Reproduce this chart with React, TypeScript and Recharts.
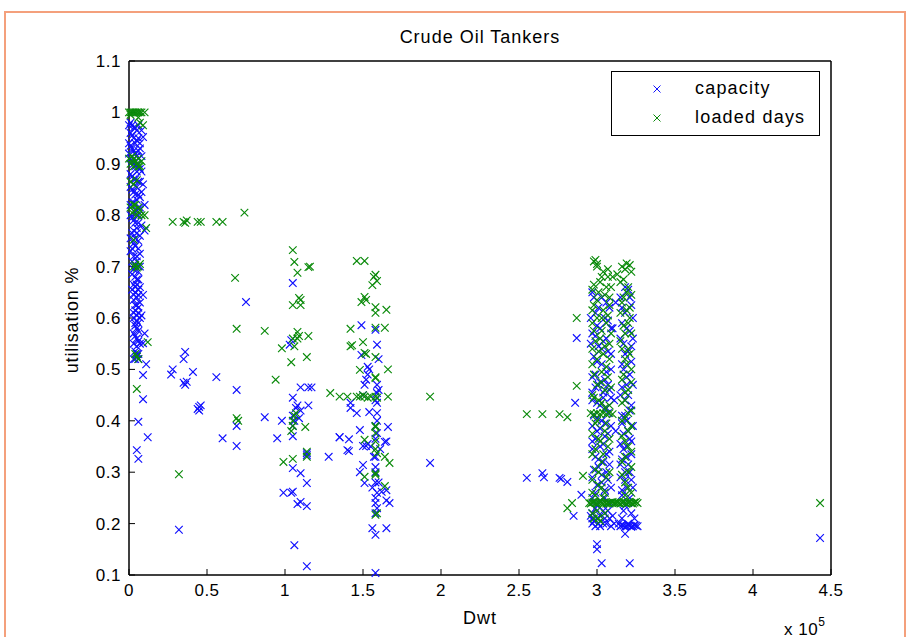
import React from "react";
import { ScatterChart, Scatter, XAxis, YAxis } from "recharts";

// x values are in thousands of Dwt, y is utilisation (0..1)
const capacityNearZero: [number, number][] = [
  [0, 0.975], [1, 0.98], [3, 0.97], [5, 0.965], [2, 0.955], [6, 0.95], [9, 0.952], [0, 0.94], [4, 0.94],
  [1, 0.935], [7, 0.93], [3, 0.925], [0, 0.92], [5, 0.915], [2, 0.905], [6, 0.9], [4, 0.895], [8, 0.885],
  [1, 0.88], [3, 0.87], [6, 0.865], [9, 0.86], [5, 0.855], [2, 0.85], [8, 0.845], [4, 0.84], [7, 0.835],
  [3, 0.825], [1, 0.82], [10, 0.82], [5, 0.81], [6, 0.8], [2, 0.795], [4, 0.785], [8, 0.78], [3, 0.77],
  [10, 0.77], [5, 0.765], [1, 0.755], [6, 0.75], [4, 0.74], [2, 0.735], [7, 0.725], [3, 0.72], [5, 0.71],
  [4, 0.7], [6, 0.69], [2, 0.685], [5, 0.675], [3, 0.665], [7, 0.66], [4, 0.65], [9, 0.645], [6, 0.645],
  [3, 0.635], [5, 0.625], [4, 0.615], [6, 0.61], [8, 0.605], [3, 0.6], [5, 0.595], [4, 0.585], [6, 0.575],
  [3, 0.57], [10, 0.57], [5, 0.56], [7, 0.55], [9, 0.551], [4, 0.535], [6, 0.53], [5, 0.525], [3, 0.52],
  [2, 0.975], [4, 0.97], [6, 0.975], [8, 0.965], [1, 0.96], [3, 0.95], [5, 0.945], [7, 0.94], [2, 0.93],
  [6, 0.925], [4, 0.92], [8, 0.915], [1, 0.91], [3, 0.9], [7, 0.89], [5, 0.885], [2, 0.875], [4, 0.87],
  [7, 0.865], [1, 0.855], [3, 0.845], [6, 0.84], [5, 0.83], [2, 0.825], [7, 0.815], [4, 0.805], [1, 0.8],
  [3, 0.79], [6, 0.785], [5, 0.775], [2, 0.765], [7, 0.76], [4, 0.755], [3, 0.745], [6, 0.735], [1, 0.73],
  [5, 0.72], [2, 0.71], [7, 0.7], [3, 0.695], [4, 0.68], [6, 0.675], [5, 0.665], [4, 0.66], [2, 0.655],
  [6, 0.655], [5, 0.64], [3, 0.645], [7, 0.63], [4, 0.625], [6, 0.62], [5, 0.605], [3, 0.61], [7, 0.6],
  [4, 0.59], [6, 0.59], [5, 0.58], [4, 0.565], [6, 0.555], [3, 0.55], [5, 0.545], [4, 0.52], [5, 0.53],
  [6, 0.52],
  [11, 0.51], [9, 0.489], [9, 0.442], [6, 0.398], [12, 0.368], [5, 0.343], [6, 0.326],
];

const capacityMid: [number, number][] = [
  [32, 0.188], [28, 0.5], [27, 0.49], [35, 0.52], [36, 0.534], [35, 0.474], [36, 0.47], [37, 0.476],
  [41, 0.495], [45, 0.427], [44, 0.423], [46, 0.43], [45, 0.42], [56, 0.485], [60, 0.366], [69, 0.46],
  [69, 0.39], [69, 0.351], [75, 0.631], [87, 0.407], [98, 0.4], [95, 0.366],
];

const capacity100k: [number, number][] = [
  [99, 0.26], [104, 0.26], [105, 0.262], [105, 0.308], [106, 0.158], [110, 0.298], [108, 0.238],
  [110, 0.242], [114, 0.279], [114, 0.234], [114, 0.117], [114, 0.337], [114, 0.333], [115, 0.43],
  [115, 0.465], [117, 0.465], [110, 0.465], [105, 0.37], [105, 0.39], [106, 0.4], [105, 0.41], [107, 0.425],
  [108, 0.43], [105, 0.445], [109, 0.405], [110, 0.42], [103, 0.548], [105, 0.668], [104, 0.557],
  [128, 0.33], [135, 0.368], [140, 0.343],
];

const capacity150k: [number, number][] = [
  [149, 0.586], [158, 0.577], [159, 0.548], [149, 0.528], [153, 0.505], [154, 0.5], [153, 0.49], [151, 0.47],
  [152, 0.48], [159, 0.454], [159, 0.435], [158, 0.44], [142, 0.435], [142, 0.425], [146, 0.415],
  [154, 0.417], [159, 0.415], [135, 0.368], [141, 0.364], [141, 0.341], [148, 0.382], [150, 0.351],
  [152, 0.351], [153, 0.355], [155, 0.35], [159, 0.376], [158, 0.39], [159, 0.4], [158, 0.365], [164, 0.359],
  [165, 0.36], [166, 0.388], [150, 0.314], [151, 0.279], [158, 0.33], [158, 0.31], [158, 0.3], [158, 0.28],
  [159, 0.26], [158, 0.25], [158, 0.24], [159, 0.23], [158, 0.22], [162, 0.262], [165, 0.265], [167, 0.24],
  [165, 0.245], [156, 0.191], [158, 0.178], [165, 0.191], [158, 0.104], [160, 0.52], [159, 0.47],
  [160, 0.46], [150, 0.45], [148, 0.3], [160, 0.28], [161, 0.345], [156, 0.27], [157, 0.33], [193, 0.318],
];

const capacity300k: [number, number][] = [
  [255, 0.289], [265, 0.298], [266, 0.29], [276, 0.289], [277, 0.287], [281, 0.281], [290, 0.256],
  [285, 0.215], [286, 0.435], [287, 0.561],
  [297, 0.65], [303, 0.64], [308, 0.62], [299, 0.61], [305, 0.6], [300, 0.585], [309, 0.58], [297, 0.57],
  [304, 0.555], [301, 0.545], [307, 0.535], [298, 0.525], [303, 0.51], [309, 0.5], [299, 0.49], [305, 0.48],
  [301, 0.47], [308, 0.46], [297, 0.455], [304, 0.445], [300, 0.435], [306, 0.425], [298, 0.41], [303, 0.4],
  [309, 0.39], [300, 0.38], [305, 0.37], [297, 0.36], [302, 0.35], [308, 0.34], [299, 0.33], [304, 0.32],
  [301, 0.31], [306, 0.3], [297, 0.29], [303, 0.28], [309, 0.27], [299, 0.26], [305, 0.25], [300, 0.235],
  [307, 0.225], [297, 0.22], [302, 0.215], [305, 0.21], [298, 0.205], [301, 0.2], [304, 0.2], [308, 0.21],
  [299, 0.195], [310, 0.215], [311, 0.2], [297, 0.21], [300, 0.16], [300, 0.15], [303, 0.123],
  [312, 0.63], [311, 0.44], [312, 0.38], [310, 0.58],
  [298, 0.64], [306, 0.63], [301, 0.62], [296, 0.6], [307, 0.595], [302, 0.58], [299, 0.565], [306, 0.56],
  [296, 0.55], [303, 0.54], [309, 0.53], [300, 0.515], [306, 0.495], [297, 0.485], [302, 0.475], [307, 0.47],
  [299, 0.465], [304, 0.455], [309, 0.445], [297, 0.44], [302, 0.43], [307, 0.415], [300, 0.405], [305, 0.395],
  [297, 0.39], [302, 0.385], [307, 0.375], [299, 0.365], [304, 0.355], [297, 0.345], [306, 0.335], [301, 0.325],
  [308, 0.315], [298, 0.305], [303, 0.295], [307, 0.285], [300, 0.275], [305, 0.265], [297, 0.25], [302, 0.245],
  [308, 0.24], [299, 0.23], [304, 0.225], [296, 0.215], [300, 0.21], [306, 0.2], [302, 0.195], [297, 0.2],
  [309, 0.195],
  [318, 0.66], [321, 0.64], [316, 0.62], [323, 0.6], [319, 0.58], [315, 0.56], [322, 0.545], [318, 0.53],
  [316, 0.51], [321, 0.49], [319, 0.47], [315, 0.45], [322, 0.43], [318, 0.41], [316, 0.395], [320, 0.38],
  [322, 0.36], [317, 0.345], [319, 0.33], [315, 0.315], [321, 0.3], [318, 0.285], [323, 0.27], [316, 0.255],
  [320, 0.24], [317, 0.225], [315, 0.195], [317, 0.196], [319, 0.195], [321, 0.196], [323, 0.195],
  [325, 0.196], [318, 0.18], [321, 0.123],
  [320, 0.655], [315, 0.64], [322, 0.625], [318, 0.61], [316, 0.59], [321, 0.575], [323, 0.56], [317, 0.55],
  [320, 0.535], [322, 0.515], [317, 0.5], [319, 0.485], [323, 0.47], [316, 0.465], [320, 0.45], [318, 0.44],
  [321, 0.42], [316, 0.41], [319, 0.4], [323, 0.39], [317, 0.375], [321, 0.365], [315, 0.355], [319, 0.35],
  [322, 0.335], [316, 0.325], [320, 0.315], [318, 0.3], [315, 0.29], [322, 0.285], [319, 0.27], [316, 0.265],
  [321, 0.25], [318, 0.235], [322, 0.22], [316, 0.21], [320, 0.2], [324, 0.21], [314, 0.2], [316, 0.197],
  [318, 0.194], [320, 0.197], [322, 0.194], [324, 0.197], [326, 0.195],
  [443, 0.172],
];

const loadedNearZero: [number, number][] = [
  [0, 1], [1, 1], [2, 1], [3, 1], [4, 1], [5, 1], [6, 1], [7, 1], [8, 1], [10, 1], [1, 0.995], [6, 0.99],
  [7, 0.98], [9, 0.975],
  [0, 0.91], [1, 0.9], [2, 0.915], [3, 0.895], [4, 0.905], [5, 0.9], [6, 0.91], [7, 0.895], [8, 0.905],
  [3, 0.91], [6, 0.895], [1, 0.865], [3, 0.86], [5, 0.868],
  [1, 0.815], [2, 0.805], [3, 0.82], [4, 0.81], [5, 0.8], [6, 0.815], [7, 0.81], [4, 0.82], [8, 0.8],
  [10, 0.8], [11, 0.775], [3, 0.752],
  [3, 0.7], [4, 0.703], [5, 0.698], [6, 0.7], [7, 0.705], [4, 0.53], [5, 0.525], [6, 0.52], [5, 0.462],
  [12, 0.553],
];

const loadedMid: [number, number][] = [
  [28, 0.787], [35, 0.787], [36, 0.785], [37, 0.79], [44, 0.787], [46, 0.787], [56, 0.787], [60, 0.787],
  [74, 0.805], [68, 0.678], [69, 0.579], [87, 0.575], [32, 0.296], [69, 0.405], [70, 0.4], [94, 0.48],
];

const loaded100k: [number, number][] = [
  [105, 0.732], [106, 0.709], [108, 0.688], [115, 0.699], [116, 0.7], [109, 0.639], [110, 0.635],
  [105, 0.625], [110, 0.625], [98, 0.541], [105, 0.56], [108, 0.573], [108, 0.56], [109, 0.565],
  [115, 0.565], [106, 0.545], [104, 0.514], [114, 0.524], [99, 0.32], [105, 0.326], [113, 0.388],
  [114, 0.33], [114, 0.34], [105, 0.4], [105, 0.39], [106, 0.41], [107, 0.415], [104, 0.38],
  [129, 0.454], [135, 0.447], [140, 0.447],
];

const loaded150k: [number, number][] = [
  [146, 0.711], [151, 0.711], [158, 0.684], [157, 0.68], [156, 0.664], [159, 0.672], [151, 0.641],
  [149, 0.631], [152, 0.635], [158, 0.621], [158, 0.61], [165, 0.616], [142, 0.579], [150, 0.553],
  [142, 0.545], [143, 0.547], [158, 0.581], [164, 0.581], [151, 0.532], [152, 0.53], [158, 0.524],
  [148, 0.499], [166, 0.5], [158, 0.483], [158, 0.485], [146, 0.447], [148, 0.447], [150, 0.45],
  [151, 0.447], [153, 0.445], [155, 0.447], [158, 0.447], [159, 0.445], [166, 0.447], [158, 0.388],
  [158, 0.39], [158, 0.376], [158, 0.36], [158, 0.345], [159, 0.337], [151, 0.363], [164, 0.33],
  [167, 0.318], [158, 0.295], [158, 0.298], [151, 0.291], [164, 0.273], [158, 0.217], [159, 0.22],
  [193, 0.447],
];

const loaded300k: [number, number][] = [
  [255, 0.413], [265, 0.413], [276, 0.413], [281, 0.407], [287, 0.468], [287, 0.6], [291, 0.293],
  [281, 0.23], [284, 0.24],
  [299, 0.713], [298, 0.71], [300, 0.705], [304, 0.69], [307, 0.68], [302, 0.67], [309, 0.66], [297, 0.655],
  [305, 0.645], [300, 0.635], [308, 0.625], [297, 0.615], [303, 0.6], [306, 0.59], [298, 0.575], [302, 0.56],
  [308, 0.55], [297, 0.54], [304, 0.53], [300, 0.52], [306, 0.505], [298, 0.49], [303, 0.475], [309, 0.465],
  [297, 0.45], [301, 0.44], [305, 0.425], [296, 0.415], [298, 0.413], [300, 0.415], [302, 0.413],
  [304, 0.415], [306, 0.413], [308, 0.415], [310, 0.413], [299, 0.395], [305, 0.38], [301, 0.365],
  [307, 0.35], [297, 0.335], [303, 0.32], [299, 0.305], [306, 0.29], [301, 0.275], [297, 0.26], [304, 0.25],
  [295, 0.24], [297, 0.241], [299, 0.24], [301, 0.241], [303, 0.24], [305, 0.241], [307, 0.24],
  [309, 0.241], [311, 0.24], [300, 0.225], [298, 0.21], [302, 0.205], [310, 0.68], [307, 0.695],
  [300, 0.7], [303, 0.68], [298, 0.665], [306, 0.66], [301, 0.65], [308, 0.64], [298, 0.625], [304, 0.615],
  [300, 0.6], [307, 0.605], [297, 0.59], [303, 0.575], [309, 0.57], [299, 0.555], [305, 0.545], [301, 0.535],
  [308, 0.52], [297, 0.51], [303, 0.495], [307, 0.485], [300, 0.47], [305, 0.46], [298, 0.445], [303, 0.435],
  [308, 0.43], [300, 0.4], [306, 0.395], [297, 0.375], [302, 0.36], [308, 0.365], [299, 0.345], [304, 0.335],
  [301, 0.3], [308, 0.3], [297, 0.285], [303, 0.27], [299, 0.255], [305, 0.26], [306, 0.239], [296, 0.239],
  [300, 0.239], [304, 0.239], [308, 0.239], [298, 0.242], [302, 0.242], [310, 0.242], [312, 0.24],
  [297, 0.22], [301, 0.21], [305, 0.22],
  [316, 0.7], [319, 0.706], [321, 0.703], [313, 0.685], [317, 0.675], [320, 0.66], [322, 0.645],
  [316, 0.63], [319, 0.615], [321, 0.6], [317, 0.585], [322, 0.57], [315, 0.555], [320, 0.54], [318, 0.52],
  [322, 0.5], [316, 0.48], [320, 0.46], [318, 0.44], [322, 0.42], [316, 0.4], [320, 0.38], [318, 0.36],
  [322, 0.34], [316, 0.32], [320, 0.3], [318, 0.28], [322, 0.26], [314, 0.24], [316, 0.241], [318, 0.24],
  [320, 0.241], [322, 0.24], [324, 0.241], [326, 0.24],
  [318, 0.695], [322, 0.69], [315, 0.67], [319, 0.65], [317, 0.64], [321, 0.62], [315, 0.61], [320, 0.59],
  [318, 0.57], [316, 0.54], [321, 0.53], [319, 0.51], [317, 0.49], [322, 0.475], [318, 0.455], [316, 0.435],
  [320, 0.415], [318, 0.405], [322, 0.39], [316, 0.37], [320, 0.35], [318, 0.33], [322, 0.31], [316, 0.295],
  [320, 0.27], [318, 0.255], [315, 0.239], [317, 0.242], [319, 0.239], [321, 0.242], [323, 0.239],
  [325, 0.242], [313, 0.241],
  [443, 0.24],
];

const xTicks = [0, 50000, 100000, 150000, 200000, 250000, 300000, 350000, 400000, 450000];
const yTicks = [0.1, 0.2, 0.3, 0.4, 0.5, 0.6, 0.7, 0.8, 0.9, 1, 1.1];

const toPoints = (rows: [number, number][]) => rows.map(([x, y]) => ({ x: x * 1000, y }));

const capacity = toPoints([...capacityNearZero, ...capacityMid, ...capacity100k, ...capacity150k, ...capacity300k]);
const loadedDays = toPoints([...loadedNearZero, ...loadedMid, ...loaded100k, ...loaded150k, ...loaded300k]);

const BLUE = "#1010ff";
const GREEN = "#0a8a0a";
const FONT = "'Liberation Sans', Arial, sans-serif";

const xMark = (color: string, r = 3.8) => (p: any) => (
  <path
    d={`M${p.cx - r},${p.cy - r}L${p.cx + r},${p.cy + r}M${p.cx - r},${p.cy + r}L${p.cx + r},${p.cy - r}`}
    stroke={color}
    strokeWidth={1.15}
    fill="none"
  />
);

const tickStyle = { fill: "#000", fontSize: 17, fontFamily: FONT, letterSpacing: 0.5 };

export default function App() {
  return (
    <div style={{ position: "absolute", left: 0, top: 0, width: 906, height: 637, background: "#fff", fontFamily: FONT }}>
      <div style={{ position: "absolute", left: 4, top: 11, width: 898, height: 640, borderTop: "2px solid #f4a07c", borderLeft: "2px solid #f4a07c", borderRight: "2px solid #f4a07c" }} />
      <div style={{ position: "absolute", left: 129, width: 702, top: 27, textAlign: "center", fontSize: 18, letterSpacing: 1 }}>Crude Oil Tankers</div>
      <div style={{ position: "absolute", left: 129, width: 702, top: 608, textAlign: "center", fontSize: 18, letterSpacing: 1 }}>Dwt</div>
      <div style={{ position: "absolute", left: 784, top: 617, fontSize: 17, letterSpacing: 0.5 }}>
        x 10<sup style={{ fontSize: 12, position: "relative", top: -2 }}>5</sup>
      </div>
      <div style={{ position: "absolute", left: 72, top: 320, fontSize: 18, letterSpacing: 0.8, transform: "translate(-50%, -50%) rotate(-90deg)", whiteSpace: "nowrap" }}>
        utilisation %
      </div>
      <ScatterChart width={906} height={637} margin={{ top: 60, right: 74, bottom: 32, left: 69 }} style={{ position: "absolute", left: 0, top: 0 }}>
        <XAxis xAxisId="b" type="number" dataKey="x" orientation="bottom" domain={[0, 450000]} ticks={xTicks}
          tickFormatter={(v: number) => String(v / 100000)} height={30} tickSize={-6} tickMargin={15}
          axisLine={{ stroke: "#000", strokeWidth: 1.5 }} tickLine={{ stroke: "#000" }} tick={tickStyle} interval={0} />
        <XAxis xAxisId="t" type="number" dataKey="x" orientation="top" domain={[0, 450000]} ticks={xTicks}
          height={1} tickSize={-6} tick={false} axisLine={{ stroke: "#000", strokeWidth: 1.5 }} tickLine={{ stroke: "#000" }} interval={0} />
        <YAxis yAxisId="l" type="number" dataKey="y" domain={[0.1, 1.1]} ticks={yTicks}
          tickFormatter={(v: number) => String(Math.round(v * 10) / 10)} width={60} tickSize={-6} tickMargin={14}
          axisLine={{ stroke: "#000", strokeWidth: 1.5 }} tickLine={{ stroke: "#000" }} tick={tickStyle} interval={0} />
        <YAxis yAxisId="r" type="number" dataKey="y" orientation="right" domain={[0.1, 1.1]} ticks={yTicks}
          width={1} tickSize={-6} tick={false} axisLine={{ stroke: "#000", strokeWidth: 1.5 }} tickLine={{ stroke: "#000" }} interval={0} />
        <Scatter name="capacity" data={capacity} xAxisId="b" yAxisId="l" shape={xMark(BLUE)} isAnimationActive={false} />
        <Scatter name="loaded days" data={loadedDays} xAxisId="b" yAxisId="l" shape={xMark(GREEN)} isAnimationActive={false} />
      </ScatterChart>
      <div style={{ position: "absolute", left: 611, top: 71, width: 207, height: 63, border: "1px solid #000", background: "#fff", fontSize: 18 }}>
        <svg width={12} height={12} style={{ position: "absolute", left: 39, top: 11 }}>
          <path d="M2.5,2.5L9.5,9.5M2.5,9.5L9.5,2.5" stroke={BLUE} strokeWidth={1} />
        </svg>
        <svg width={12} height={12} style={{ position: "absolute", left: 39, top: 40 }}>
          <path d="M2.5,2.5L9.5,9.5M2.5,9.5L9.5,2.5" stroke={GREEN} strokeWidth={1} />
        </svg>
        <div style={{ position: "absolute", left: 83, top: 6, letterSpacing: 1.2 }}>capacity</div>
        <div style={{ position: "absolute", left: 83, top: 35, letterSpacing: 1.2 }}>loaded days</div>
      </div>
    </div>
  );
}
